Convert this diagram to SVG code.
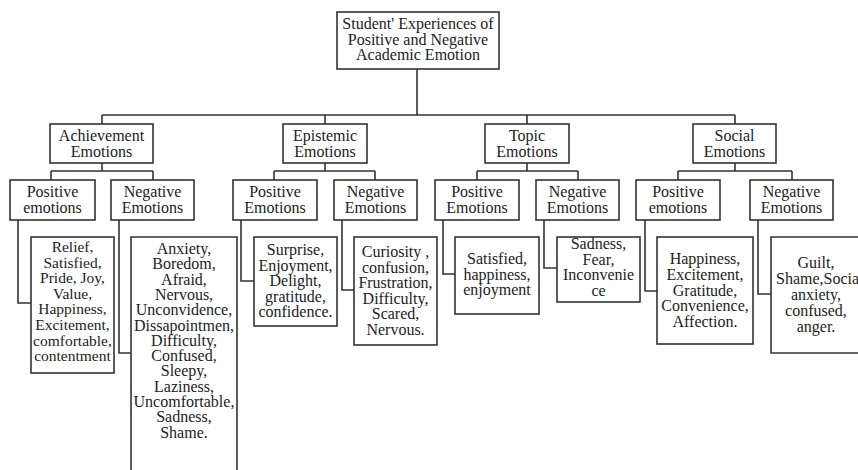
<svg xmlns="http://www.w3.org/2000/svg" width="858" height="470" viewBox="0 0 858 470">
<style>
.box{fill:#fff;stroke:#333;stroke-width:1.6}
.ln{fill:none;stroke:#333;stroke-width:1.6}
text{font-family:"Liberation Serif","Times New Roman",serif;font-size:16px;fill:#222;text-anchor:middle}
.sm{font-size:15.5px}
</style>
<rect width="858" height="470" fill="#fff"/>
<g id="connectors" class="ln">
<path d="M417,69 V115 M102,115 H735 M102,115 V124 M325,115 V124 M527,115 V124 M735,115 V124"/>
<path d="M102,163 V171 M51,171 H153 M51,171 V180 M153,171 V180"/>
<path d="M325,163 V171 M274,171 H375 M274,171 V180 M375,171 V180"/>
<path d="M527,163 V171 M477,171 H578 M477,171 V180 M578,171 V180"/>
<path d="M735,163 V171 M678,171 H792 M678,171 V180 M792,171 V180"/>
<path d="M18,220 V303 H31 M119,220 V353 H131"/>
<path d="M241,220 V281 H254 M342,220 V290 H354"/>
<path d="M443,220 V274 H455 M544,220 V268 H557"/>
<path d="M645,220 V291 H657 M758,220 V294 H771"/>
</g>
<g id="root"><rect class="box" x="337" y="12" width="162" height="57"/><text><tspan x="418" y="29">Student' Experiences of</tspan><tspan x="418" y="44.5">Positive and Negative</tspan><tspan x="418" y="60">Academic Emotion</tspan></text></g>
<g id="achievement"><rect class="box" x="50" y="124" width="103" height="39"/><text><tspan x="101.5" y="141">Achievement</tspan><tspan x="101.5" y="157">Emotions</tspan></text></g>
<g id="epistemic"><rect class="box" x="283" y="124" width="84" height="39"/><text><tspan x="325" y="141">Epistemic</tspan><tspan x="325" y="157">Emotions</tspan></text></g>
<g id="topic"><rect class="box" x="485" y="124" width="84" height="39"/><text><tspan x="527" y="141">Topic</tspan><tspan x="527" y="157">Emotions</tspan></text></g>
<g id="social"><rect class="box" x="693" y="124" width="83" height="39"/><text><tspan x="734.5" y="141">Social</tspan><tspan x="734.5" y="157">Emotions</tspan></text></g>
<g id="ach-pos"><rect class="box" x="10" y="180" width="85" height="40"/><text><tspan x="52.5" y="197">Positive</tspan><tspan x="52.5" y="213">emotions</tspan></text></g>
<g id="ach-neg"><rect class="box" x="111" y="180" width="83" height="40"/><text><tspan x="152.5" y="197">Negative</tspan><tspan x="152.5" y="213">Emotions</tspan></text></g>
<g id="epi-pos"><rect class="box" x="233" y="180" width="84" height="40"/><text><tspan x="275" y="197">Positive</tspan><tspan x="275" y="213">Emotions</tspan></text></g>
<g id="epi-neg"><rect class="box" x="334" y="180" width="83" height="40"/><text><tspan x="375.5" y="197">Negative</tspan><tspan x="375.5" y="213">Emotions</tspan></text></g>
<g id="top-pos"><rect class="box" x="435" y="180" width="84" height="40"/><text><tspan x="477" y="197">Positive</tspan><tspan x="477" y="213">Emotions</tspan></text></g>
<g id="top-neg"><rect class="box" x="536" y="180" width="83" height="40"/><text><tspan x="577.5" y="197">Negative</tspan><tspan x="577.5" y="213">Emotions</tspan></text></g>
<g id="soc-pos"><rect class="box" x="636" y="180" width="84" height="40"/><text><tspan x="678" y="197">Positive</tspan><tspan x="678" y="213">emotions</tspan></text></g>
<g id="soc-neg"><rect class="box" x="750" y="180" width="83" height="40"/><text><tspan x="791.5" y="197">Negative</tspan><tspan x="791.5" y="213">Emotions</tspan></text></g>
<g id="ach-pos-leaf"><rect class="box" x="31" y="237" width="83" height="136"/><text class="sm"><tspan x="72.5" y="252">Relief,</tspan><tspan x="72.5" y="267.6">Satisfied,</tspan><tspan x="72.5" y="283.2">Pride, Joy,</tspan><tspan x="72.5" y="298.8">Value,</tspan><tspan x="72.5" y="314.4">Happiness,</tspan><tspan x="72.5" y="330">Excitement,</tspan><tspan x="72.5" y="345.6">comfortable,</tspan><tspan x="72.5" y="361.2">contentment</tspan></text></g>
<g id="ach-neg-leaf"><path class="box" d="M131,472 V237 H237 V472"/><text><tspan x="184" y="254">Anxiety,</tspan><tspan x="184" y="269.3">Boredom,</tspan><tspan x="184" y="284.6">Afraid,</tspan><tspan x="184" y="299.9">Nervous,</tspan><tspan x="184" y="315.2">Unconvidence,</tspan><tspan x="184" y="330.5">Dissapointmen,</tspan><tspan x="184" y="345.8">Difficulty,</tspan><tspan x="184" y="361.1">Confused,</tspan><tspan x="184" y="376.4">Sleepy,</tspan><tspan x="184" y="391.7">Laziness,</tspan><tspan x="184" y="407">Uncomfortable,</tspan><tspan x="184" y="422.3">Sadness,</tspan><tspan x="184" y="437.6">Shame.</tspan></text></g>
<g id="epi-pos-leaf"><rect class="box" x="254" y="237" width="83" height="89"/><text><tspan x="295.5" y="255">Surprise,</tspan><tspan x="295.5" y="270.6">Enjoyment,</tspan><tspan x="295.5" y="286.2">Delight,</tspan><tspan x="295.5" y="301.8">gratitude,</tspan><tspan x="295.5" y="317.4">confidence.</tspan></text></g>
<g id="epi-neg-leaf"><rect class="box" x="354" y="237" width="83" height="108"/><text><tspan x="395.5" y="257">Curiosity ,</tspan><tspan x="395.5" y="272.6">confusion,</tspan><tspan x="395.5" y="288.2">Frustration,</tspan><tspan x="395.5" y="303.8">Difficulty,</tspan><tspan x="395.5" y="319.4">Scared,</tspan><tspan x="395.5" y="335">Nervous.</tspan></text></g>
<g id="top-pos-leaf"><rect class="box" x="455" y="237" width="84" height="77"/><text><tspan x="497" y="264">Satisfied,</tspan><tspan x="497" y="279.5">happiness,</tspan><tspan x="497" y="295">enjoyment</tspan></text></g>
<g id="top-neg-leaf"><rect class="box" x="557" y="237" width="83" height="65"/><text><tspan x="598.5" y="249">Sadness,</tspan><tspan x="598.5" y="264.6">Fear,</tspan><tspan x="598.5" y="280.2">Inconvenie</tspan><tspan x="598.5" y="295.8">ce</tspan></text></g>
<g id="soc-pos-leaf"><rect class="box" x="657" y="237" width="96" height="107"/><text><tspan x="705" y="264">Happiness,</tspan><tspan x="705" y="279.8">Excitement,</tspan><tspan x="705" y="295.5">Gratitude,</tspan><tspan x="705" y="311.3">Convenience,</tspan><tspan x="705" y="327">Affection.</tspan></text></g>
<g id="soc-neg-leaf"><path class="box" d="M860,237 H771 V353 H860"/><text><tspan x="816" y="268">Guilt,</tspan><tspan x="776" y="284" style="text-anchor:start">Shame,Socia</tspan><tspan x="816" y="300">anxiety,</tspan><tspan x="816" y="316">confused,</tspan><tspan x="816" y="332">anger.</tspan></text></g>
</svg>
